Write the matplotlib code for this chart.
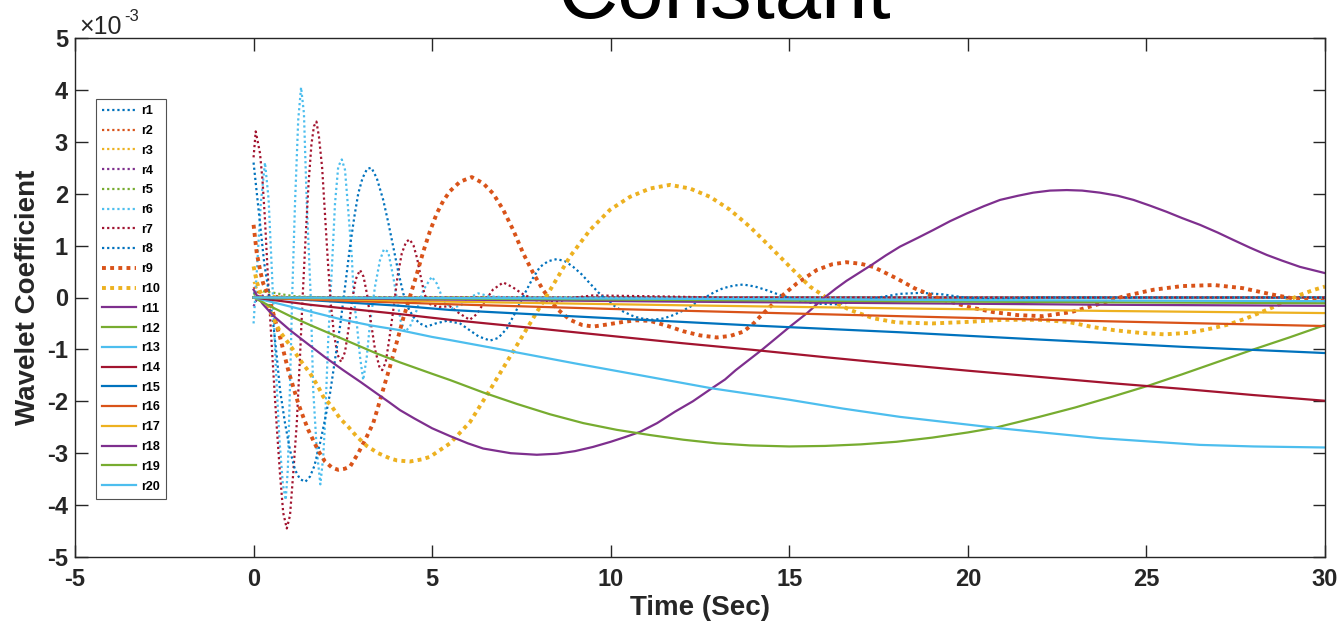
import matplotlib
matplotlib.use("Agg")
import matplotlib.pyplot as plt

plt.rcParams['font.family'] = ['Liberation Sans', 'DejaVu Sans']

# Coefficient values are in units of 1e-3
T_R1 = [0, 0.15, 0.35, 0.6, 1.0, 2.0, 30]
V_R1 = [0.10, 0.0, -0.06, 0.02, 0.0, 0.0, 0.0]
T_R2 = [0, 0.15, 0.35, 0.6, 1.0, 30]
V_R2 = [0.20, 0.05, -0.08, 0.03, 0.0, 0.0]
T_R3 = [0, 0.15, 0.3, 0.55, 0.9, 30]
V_R3 = [0.30, 0.10, -0.05, 0.03, 0.0, 0.0]
T_R4 = [0, 0.15, 0.35, 0.7, 1.2, 30]
V_R4 = [-0.17, 0.05, 0.02, -0.02, 0.0, 0.0]
T_R5 = [0, 0.25, 0.5, 0.8, 1.2, 2.0, 30]
V_R5 = [0.05, 0.12, 0.10, 0.06, 0.02, 0.0, 0.0]

T_R6 = [0, 0.1, 0.2, 0.32, 0.42, 0.52, 0.62, 0.72, 0.82, 0.90, 0.96, 1.02,
        1.08, 1.16, 1.25, 1.33, 1.41, 1.49, 1.60, 1.67, 1.77, 1.87, 1.95,
        2.00, 2.09, 2.19, 2.28, 2.37, 2.47, 2.56, 2.65, 2.75, 2.81, 2.89,
        2.98, 3.07, 3.17, 3.26, 3.40, 3.54, 3.65, 3.77, 3.91, 4.02, 4.12,
        4.24, 4.38, 4.57, 4.75, 4.99, 5.13, 5.31, 5.55, 5.83, 6.11, 6.29,
        6.62, 7.2, 30]
V_R6 = [-0.50, 0.60, 1.80, 2.60, 1.90, 0.40, -1.30, -2.70, -3.60, -3.90,
        -3.30, -1.70, 0.0, 1.81, 3.42, 4.05, 3.55, 1.81, 0.02, -1.78, -2.94,
        -3.60, -3.07, -2.42, -0.82, 0.53, 1.81, 2.52, 2.66, 2.46, 1.69, 0.79,
        -0.05, -0.50, -1.14, -1.59, -1.14, -0.50, 0.21, 0.72, 0.93, 0.88,
        0.40, -0.05, -0.45, -0.66, -0.56, -0.24, 0.14, 0.40, 0.27, -0.05,
        -0.21, -0.14, 0.02, 0.08, 0.02, 0.0, 0.0]

T_R7 = [0, 0.06, 0.18, 0.25, 0.32, 0.39, 0.46, 0.55, 0.65, 0.74, 0.83, 0.93,
        1.02, 1.11, 1.21, 1.30, 1.38, 1.46, 1.54, 1.62, 1.69, 1.76, 1.83,
        1.92, 2.00, 2.08, 2.16, 2.25, 2.35, 2.45, 2.56, 2.66, 2.76, 2.86,
        2.98, 3.08, 3.18, 3.28, 3.40, 3.52, 3.60, 3.70, 3.80, 3.92, 4.03,
        4.15, 4.27, 4.37, 4.48, 4.58, 4.68, 4.78, 4.90, 5.2, 5.5, 5.75, 6.05,
        6.25, 6.45, 6.70, 6.99, 7.25, 7.55, 7.9, 8.5, 9.0, 9.5, 10.5, 11.5,
        13.0, 30]
V_R7 = [2.70, 3.20, 2.78, 2.26, 1.49, 0.55, -0.35, -1.40, -2.50, -3.40,
        -4.15, -4.45, -4.20, -3.39, -2.42, -1.14, 0.10, 1.20, 2.20, 2.95,
        3.30, 3.39, 3.10, 2.50, 1.60, 0.70, -0.10, -0.70, -1.10, -1.24,
        -1.05, -0.60, -0.05, 0.35, 0.53, 0.40, 0.05, -0.45, -1.00, -1.33,
        -1.40, -1.25, -0.80, -0.20, 0.40, 0.85, 1.07, 1.12, 1.00, 0.75, 0.40,
        0.08, -0.12, -0.18, -0.17, -0.30, -0.43, -0.32, -0.10, 0.15, 0.29,
        0.20, 0.06, -0.05, -0.08, 0.0, 0.04, 0.03, 0.02, 0.0, 0.0]

T_R8 = [0, 0.1, 0.2, 0.3, 0.45, 0.55, 0.65, 0.74, 0.88, 1.02, 1.16, 1.30,
        1.45, 1.58, 1.70, 1.86, 2.0, 2.14, 2.28, 2.42, 2.56, 2.70, 2.82,
        2.93, 3.05, 3.18, 3.30, 3.45, 3.63, 3.77, 3.91, 4.05, 4.19, 4.33,
        4.47, 4.65, 4.85, 5.1, 5.41, 5.78, 6.05, 6.30, 6.62, 6.85, 7.09,
        7.32, 7.55, 7.80, 8.02, 8.25, 8.49, 8.72, 8.95, 9.18, 9.42, 9.65,
        9.89, 10.12, 10.35, 10.6, 10.82, 11.19, 11.5, 11.75, 12.0, 12.22,
        12.45, 12.69, 12.92, 13.15, 13.45, 13.71, 14.05, 14.37, 14.65, 14.93,
        15.3, 15.8, 16.3, 16.9, 17.5, 18.1, 18.7, 19.3, 19.9, 20.6, 22.0, 30]
V_R8 = [2.60, 1.95, 1.30, 0.65, 0.0, -0.50, -1.14, -1.78, -2.42, -2.94,
        -3.32, -3.50, -3.55, -3.45, -3.25, -2.81, -2.35, -1.85, -1.20, -0.56,
        0.20, 0.98, 1.55, 2.00, 2.30, 2.48, 2.50, 2.30, 1.88, 1.45, 0.98,
        0.50, 0.08, -0.20, -0.37, -0.50, -0.56, -0.50, -0.45, -0.50, -0.63,
        -0.75, -0.83, -0.78, -0.60, -0.30, 0.02, 0.35, 0.59, 0.70, 0.74,
        0.70, 0.59, 0.45, 0.27, 0.10, -0.05, -0.17, -0.27, -0.35, -0.40,
        -0.43, -0.40, -0.34, -0.26, -0.18, -0.08, 0.02, 0.11, 0.18, 0.23,
        0.25, 0.21, 0.14, 0.07, 0.01, -0.07, -0.12, -0.13, -0.08, 0.0, 0.07,
        0.09, 0.06, 0.0, -0.03, 0.0, 0.0]

T_R9 = [0, 0.09, 0.2, 0.27, 0.37, 0.45, 0.55, 0.65, 0.74, 0.83, 0.97, 1.11,
        1.25, 1.39, 1.53, 1.67, 1.81, 2.0, 2.2, 2.37, 2.55, 2.70, 2.93, 3.17,
        3.35, 3.49, 3.68, 3.82, 4.05, 4.2, 4.38, 4.57, 4.75, 4.94, 5.13,
        5.31, 5.50, 5.78, 6.11, 6.43, 6.71, 6.99, 7.27, 7.55, 7.83, 8.11,
        8.5, 8.86, 9.2, 9.51, 9.9, 10.35, 10.7, 11.1, 11.6, 12.03, 12.5,
        12.97, 13.35, 13.71, 14.0, 14.18, 14.65, 15.21, 15.77, 16.2, 16.6,
        17.0, 17.35, 18.0, 18.5, 19.2, 20.0, 20.7, 21.4, 22.1, 22.9, 23.7,
        24.4, 25.2, 26.0, 26.9, 27.7, 28.5, 29.2, 30]
V_R9 = [1.40, 0.85, 0.47, 0.27, 0.11, -0.05, -0.30, -0.55, -0.76, -1.01,
        -1.40, -1.72, -2.04, -2.30, -2.55, -2.75, -2.95, -3.16, -3.28, -3.32,
        -3.30, -3.26, -3.00, -2.68, -2.42, -2.10, -1.65, -1.33, -0.76, -0.38,
        0.02, 0.45, 0.88, 1.28, 1.62, 1.86, 2.05, 2.23, 2.32, 2.20, 2.00,
        1.69, 1.30, 0.85, 0.47, 0.14, -0.22, -0.43, -0.53, -0.56, -0.52,
        -0.47, -0.44, -0.45, -0.55, -0.65, -0.73, -0.77, -0.74, -0.66, -0.50,
        -0.37, -0.05, 0.27, 0.53, 0.64, 0.68, 0.65, 0.59, 0.37, 0.18, -0.02,
        -0.18, -0.28, -0.34, -0.36, -0.28, -0.12, 0.03, 0.15, 0.22, 0.24,
        0.18, 0.06, -0.03, -0.07]

T_R10 = [0, 0.09, 0.18, 0.37, 0.55, 0.74, 1.02, 1.30, 1.58, 1.67, 1.81, 1.95,
         2.19, 2.42, 2.65, 2.89, 3.17, 3.49, 3.82, 4.02, 4.38, 4.7, 4.94, 5.5,
         6.06, 6.62, 7.18, 7.74, 8.30, 8.86, 9.42, 9.98, 10.54, 11.10, 11.66,
         12.22, 12.78, 13.34, 13.90, 14.46, 15.02, 15.58, 16.14, 16.70, 17.35,
         18.0, 19.0, 20.0, 21.0, 22.0, 22.8, 23.5, 24.1, 24.8, 25.5, 26.2,
         26.8, 27.3, 27.8, 28.4, 28.9, 29.3, 29.7, 30]
V_R10 = [0.60, 0.30, 0.12, -0.12, -0.40, -0.66, -0.92, -1.20, -1.46, -1.56,
         -1.72, -1.91, -2.10, -2.33, -2.49, -2.68, -2.86, -3.00, -3.10, -3.14,
         -3.16, -3.12, -3.07, -2.81, -2.40, -1.78, -1.14, -0.50, 0.14, 0.79,
         1.30, 1.69, 1.94, 2.10, 2.17, 2.10, 1.94, 1.69, 1.36, 0.98, 0.59,
         0.21, -0.05, -0.24, -0.40, -0.48, -0.50, -0.47, -0.43, -0.43, -0.47,
         -0.57, -0.63, -0.68, -0.71, -0.68, -0.60, -0.52, -0.40, -0.23, -0.08,
         0.05, 0.15, 0.21]

T_R11 = [0, 0.1, 0.25, 0.55, 1.02, 1.49, 2.0, 2.51, 3.0, 3.45, 3.8, 4.1, 4.5,
         5.0, 5.5, 6.0, 6.43, 7.2, 7.93, 8.5, 9.0, 9.5, 10.0, 10.4, 10.82,
         11.3, 11.8, 12.3, 12.83, 13.2, 13.5, 14.23, 14.6, 15.02, 15.5, 15.95,
         16.3, 16.6, 17.31, 17.7, 18.1, 18.6, 19.03, 19.5, 19.97, 20.45, 20.9,
         21.4, 21.83, 22.3, 22.77, 23.2, 23.70, 24.2, 24.64, 25.1, 25.57, 26.0,
         26.5, 27.0, 27.43, 27.9, 28.37, 28.8, 29.3, 29.65, 30]
V_R11 = [0.15, 0.03, -0.12, -0.35, -0.63, -0.88, -1.15, -1.40, -1.63, -1.85,
         -2.02, -2.17, -2.33, -2.52, -2.67, -2.81, -2.91, -3.00, -3.03, -3.01,
         -2.96, -2.88, -2.78, -2.69, -2.59, -2.42, -2.20, -2.00, -1.75, -1.58,
         -1.40, -1.01, -0.80, -0.56, -0.30, -0.02, 0.17, 0.32, 0.63, 0.81, 0.98,
         1.15, 1.30, 1.47, 1.62, 1.76, 1.88, 1.96, 2.02, 2.06, 2.07, 2.06,
         2.02, 1.96, 1.88, 1.77, 1.65, 1.53, 1.40, 1.25, 1.11, 0.96, 0.82,
         0.71, 0.59, 0.53, 0.47]

T_R12 = [0, 0.5, 1.0, 1.58, 2.5, 3.45, 4.1, 5.0, 5.5, 6.43, 7.37, 8.30, 9.23,
         10.17, 11.1, 12.03, 12.97, 13.9, 15.0, 16.0, 17.0, 18.0, 19.0, 20.0,
         20.76, 22.0, 23.0, 24.0, 25.05, 26.0, 27.0, 28.0, 29.0, 30]
V_R12 = [0.0, -0.18, -0.35, -0.53, -0.80, -1.08, -1.25, -1.47, -1.59, -1.83,
         -2.05, -2.25, -2.42, -2.55, -2.65, -2.74, -2.81, -2.85, -2.87, -2.86,
         -2.83, -2.78, -2.70, -2.60, -2.51, -2.30, -2.12, -1.92, -1.70, -1.48,
         -1.24, -1.00, -0.77, -0.53]

T_R13 = [0, 1.0, 1.58, 2.51, 3.3, 4.1, 5.0, 5.5, 7.0, 9.0, 11.0, 12.83, 15.0,
         16.5, 18.1, 20.9, 23.7, 26.5, 28.0, 30]
V_R13 = [0.0, -0.17, -0.27, -0.43, -0.54, -0.63, -0.76, -0.82, -1.01, -1.27,
         -1.52, -1.75, -1.97, -2.14, -2.30, -2.52, -2.71, -2.84, -2.87, -2.89]

T_R14 = [0, 1.58, 4.1, 5.5, 8, 10, 12, 14, 16, 18.1, 20, 22, 24, 26, 28, 30]
V_R14 = [0.0, -0.14, -0.32, -0.43, -0.60, -0.74, -0.88, -1.01, -1.15, -1.29,
         -1.41, -1.53, -1.65, -1.76, -1.88, -1.99]

T_R15 = [0, 1.58, 4.1, 5.5, 10, 14, 18.1, 22, 26, 30]
V_R15 = [0.0, -0.05, -0.16, -0.24, -0.40, -0.54, -0.67, -0.81, -0.95, -1.07]

T_R16 = [0, 2, 5.5, 10, 18.1, 24, 30]
V_R16 = [0.0, -0.05, -0.13, -0.22, -0.36, -0.46, -0.55]

T_R17 = [0, 5.5, 12, 18.1, 24, 30]
V_R17 = [0.0, -0.08, -0.15, -0.21, -0.26, -0.30]

T_R18 = [0, 5.5, 12, 18.1, 24, 30]
V_R18 = [0.0, -0.04, -0.08, -0.11, -0.14, -0.16]

T_R19 = [0, 10, 20, 30]
V_R19 = [0.0, -0.04, -0.08, -0.11]

T_R20 = [0, 10, 20, 30]
V_R20 = [0.0, -0.02, -0.05, -0.07]

SERIES_NAMES = ['r%d' % i for i in range(1, 21)]
SERIES_T = [T_R1, T_R2, T_R3, T_R4, T_R5, T_R6, T_R7, T_R8, T_R9, T_R10,
            T_R11, T_R12, T_R13, T_R14, T_R15, T_R16, T_R17, T_R18, T_R19, T_R20]
SERIES_V = [V_R1, V_R2, V_R3, V_R4, V_R5, V_R6, V_R7, V_R8, V_R9, V_R10,
            V_R11, V_R12, V_R13, V_R14, V_R15, V_R16, V_R17, V_R18, V_R19, V_R20]

X_TICKS = [-5, 0, 5, 10, 15, 20, 25, 30]
Y_TICKS = [-5, -4, -3, -2, -1, 0, 1, 2, 3, 4, 5]

# MATLAB default line colour order
COLORS = ['#0072BD', '#D95319', '#EDB120', '#7E2F8E', '#77AC30', '#4DBEEE', '#A2142F']

fig = plt.figure(figsize=(13.42, 6.23), dpi=100)
ax = fig.add_axes([75 / 1342, 66 / 623, 1250 / 1342, 519 / 623])

for i, (name, t, v) in enumerate(zip(SERIES_NAMES, SERIES_T, SERIES_V)):
    color = COLORS[i % 7]
    if i < 8:
        ax.plot(t, v, color=color, lw=1.6, linestyle=(0, (1.0, 1.3)),
                dash_capstyle='butt', label=name)
    elif i < 10:
        ax.plot(t, v, color=color, lw=2.8, linestyle=(0, (1.0, 1.1)),
                dash_capstyle='butt', label=name)
    else:
        ax.plot(t, v, color=color, lw=1.6, linestyle='-', label=name)

ax.set_xlim(-5, 30)
ax.set_ylim(-5, 5)
ax.set_xticks(X_TICKS)
ax.set_yticks(Y_TICKS)
ax.set_xticklabels([str(x) for x in X_TICKS])
ax.set_yticklabels([str(y) for y in Y_TICKS])

edge = '#262626'
for s in ax.spines.values():
    s.set_color(edge)
    s.set_linewidth(1.0)
ax.tick_params(direction='in', length=9, width=1.0, color=edge,
               top=True, right=True, labelsize=17, labelcolor=edge)
ax.tick_params(axis='x', pad=8)
ax.tick_params(axis='y', pad=5)
for lbl in ax.get_xticklabels() + ax.get_yticklabels():
    lbl.set_fontweight('bold')

ax.set_xlabel('Time (Sec)', fontsize=20, fontweight='bold', color=edge, labelpad=3)
ax.set_ylabel('Wavelet Coefficient', fontsize=20, fontweight='bold', color=edge, labelpad=4)

# exponent marker above the y axis
fig.text(79 / 1342, 1 - 34 / 623, '\u00d710', fontsize=18, color=edge, va='baseline')
fig.text(124 / 1342, 1 - 21 / 623, '-3', fontsize=12, color=edge, va='baseline')

fig.text(725 / 1342, 1 - 18 / 623, 'Constant', fontsize=60, ha='center',
         va='baseline', color='black')

leg = ax.legend(loc='upper left', bbox_to_anchor=(21 / 1250, 1 - 61 / 519),
                prop={'weight': 'bold', 'size': 9},
                handlelength=2.7, handletextpad=0.4, labelspacing=0.62,
                borderpad=0.5, borderaxespad=0, frameon=True, fancybox=False)
leg.get_frame().set_edgecolor('#262626')
leg.get_frame().set_linewidth(0.8)

fig.savefig('out.png', dpi=100)
